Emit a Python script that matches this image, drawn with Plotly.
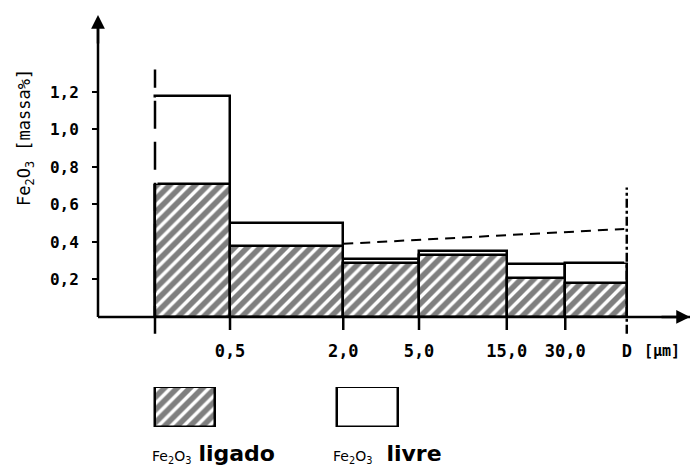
import plotly.graph_objects as go

# Particle-size classes (upper limit of each class, µm)
EDGE_LABELS = ["0,5", "2,0", "5,0", "15,0", "30,0", "D"]
# Fe2O3 content per size class [massa %]
FE2O3_TOTAL = [1.18, 0.50, 0.31, 0.35, 0.28, 0.29]   # outline (ligado + livre)
FE2O3_LIGADO = [0.71, 0.38, 0.29, 0.33, 0.21, 0.18]  # hatched part
# dashed trend from the 2,0 class limit to D
TREND_FROM, TREND_TO = "2,0", "D"
TREND_VALUES = [0.39, 0.47]
Y_TICKS = [0.2, 0.4, 0.6, 0.8, 1.0, 1.2]
Y_TICK_TEXT = ["0,2", "0,4", "0,6", "0,8", "1,0", "1,2"]

# schematic (non-linear) positions of the class limits along the x axis
EDGE_POS = [0.0, 1.0, 2.51, 3.52, 4.69, 5.47, 6.29]

centers = [(a + b) / 2 for a, b in zip(EDGE_POS[:-1], EDGE_POS[1:])]
widths = [b - a for a, b in zip(EDGE_POS[:-1], EDGE_POS[1:])]
label_pos = dict(zip(EDGE_LABELS, EDGE_POS[1:]))

W, H = 693, 468
LINE = 2.5
mono = "DejaVu Sans Mono"
HATCH = dict(shape="/", fgcolor="black", bgcolor="white", size=9, solidity=0.62)

fig = go.Figure()

fig.add_trace(go.Bar(
    x=centers, y=FE2O3_TOTAL, width=widths,
    marker=dict(color="white", line=dict(color="black", width=LINE)),
    showlegend=False,
))
fig.add_trace(go.Bar(
    x=centers, y=FE2O3_LIGADO, width=widths,
    marker=dict(color="white", line=dict(color="black", width=LINE), pattern=HATCH),
    showlegend=False,
))
fig.add_trace(go.Scatter(
    x=[label_pos[TREND_FROM], label_pos[TREND_TO]], y=TREND_VALUES,
    mode="lines", line=dict(color="black", width=2, dash="10px,7px"),
    showlegend=False,
))

# legend keys on their own small axes below the chart
fig.add_trace(go.Bar(
    x=[185], y=[1], width=[60], xaxis="x2", yaxis="y2",
    marker=dict(color="white", line=dict(color="black", width=LINE), pattern=HATCH),
    showlegend=False,
))
fig.add_trace(go.Bar(
    x=[367.5], y=[1], width=[61], xaxis="x2", yaxis="y2",
    marker=dict(color="white", line=dict(color="black", width=LINE)),
    showlegend=False,
))

x_lo, x_hi = -0.76, 7.133
y_lo, y_hi = -0.1, 1.61

shapes = []
# axes drawn as lines through the origin
shapes.append(dict(type="line", xref="x domain", yref="y", x0=0, x1=1, y0=0, y1=0,
                   line=dict(color="black", width=LINE)))
shapes.append(dict(type="line", xref="x domain", yref="y", x0=0, x1=0, y0=0, y1=y_hi - 0.03,
                   line=dict(color="black", width=LINE)))
# short tick marks at the class limits
for p in EDGE_POS[1:-1]:
    shapes.append(dict(type="line", xref="x", yref="y", x0=p, x1=p, y0=0, y1=-0.07,
                       line=dict(color="black", width=LINE)))
# dashed limits at the start and at D
shapes.append(dict(type="line", xref="x", yref="y", x0=EDGE_POS[0], x1=EDGE_POS[0],
                   y0=FE2O3_LIGADO[0], y1=FE2O3_TOTAL[0] - 0.01,
                   line=dict(color="white", width=5)))
shapes.append(dict(type="line", xref="x", yref="y", x0=EDGE_POS[0], x1=EDGE_POS[0],
                   y0=-0.09, y1=1.32, line=dict(color="black", width=LINE, dash="28px,13px")))
shapes.append(dict(type="line", xref="x", yref="y", x0=EDGE_POS[-1], x1=EDGE_POS[-1],
                   y0=FE2O3_TOTAL[-1], y1=0.69,
                   line=dict(color="white", width=5)))
shapes.append(dict(type="line", xref="x", yref="y", x0=EDGE_POS[-1], x1=EDGE_POS[-1],
                   y0=-0.09, y1=0.69, line=dict(color="black", width=LINE, dash="dashdot")))

annotations = [
    # arrow heads of the axes
    dict(xref="x domain", yref="y", x=1, y=0, ax=-30, ay=0, text="", showarrow=True,
         arrowhead=2, arrowsize=1.1, arrowwidth=LINE, arrowcolor="black"),
    dict(xref="x domain", yref="y", x=0, y=y_hi, ax=0, ay=30, text="", showarrow=True,
         arrowhead=2, arrowsize=1.1, arrowwidth=LINE, arrowcolor="black"),
    # y axis title
    dict(xref="paper", yref="paper", x=26 / W, y=(H - 138) / H, textangle=-90,
         xanchor="center", yanchor="middle",
         text="Fe<sub>2</sub>O<sub>3</sub> [massa%]", showarrow=False,
         font=dict(family=mono, size=17, color="black")),
    # unit after D
    dict(xref="x", yref="paper", x=EDGE_POS[-1], y=(H - 351) / H, xshift=15,
         xanchor="left", yanchor="middle",
         text="<b>[µm]</b>", showarrow=False, font=dict(family=mono, size=15, color="black")),
    # legend labels
    dict(xref="paper", yref="paper", x=150 / W, y=(H - 453) / H,
         xanchor="left", yanchor="middle",
         text="<span style='font-size:14px'>Fe<sub>2</sub>O<sub>3</sub></span> <b>ligado</b>",
         showarrow=False, font=dict(family="DejaVu Sans", size=22, color="black")),
    dict(xref="paper", yref="paper", x=331 / W, y=(H - 453) / H,
         xanchor="left", yanchor="middle",
         text="<span style='font-size:14px'>Fe<sub>2</sub>O<sub>3</sub></span>  <b>livre</b>",
         showarrow=False, font=dict(family="DejaVu Sans", size=22, color="black")),
]

fig.update_layout(
    width=W, height=H,
    margin=dict(l=0, r=0, t=0, b=0),
    paper_bgcolor="white", plot_bgcolor="white",
    barmode="overlay", bargap=0,
    showlegend=False,
    font=dict(family=mono, size=16, color="black"),
    xaxis=dict(domain=[98 / W, 690 / W], range=[x_lo, x_hi],
               tickvals=EDGE_POS[1:], ticktext=[f"<b>{t}</b>" for t in EDGE_LABELS],
               tickfont=dict(family=mono, size=17, color="black"),
               ticks="", showgrid=False, zeroline=False, showline=False,
               ticklabelstandoff=3),
    yaxis=dict(domain=[(H - 335.75) / H, (H - 15) / H], range=[y_lo, y_hi],
               tickvals=Y_TICKS, ticktext=[f"<b>{t}</b>" for t in Y_TICK_TEXT],
               tickfont=dict(family=mono, size=16, color="black"),
               ticks="outside", ticklen=5, tickwidth=2, tickcolor="black",
               showgrid=False, zeroline=False, showline=False,
               ticklabelstandoff=10),
    xaxis2=dict(domain=[0, 1], range=[0, W], visible=False, anchor="y2"),
    yaxis2=dict(domain=[(H - 427) / H, (H - 387) / H], range=[0, 1], visible=False, anchor="x2"),
    shapes=shapes,
    annotations=annotations,
)

fig.write_html("out.html")
